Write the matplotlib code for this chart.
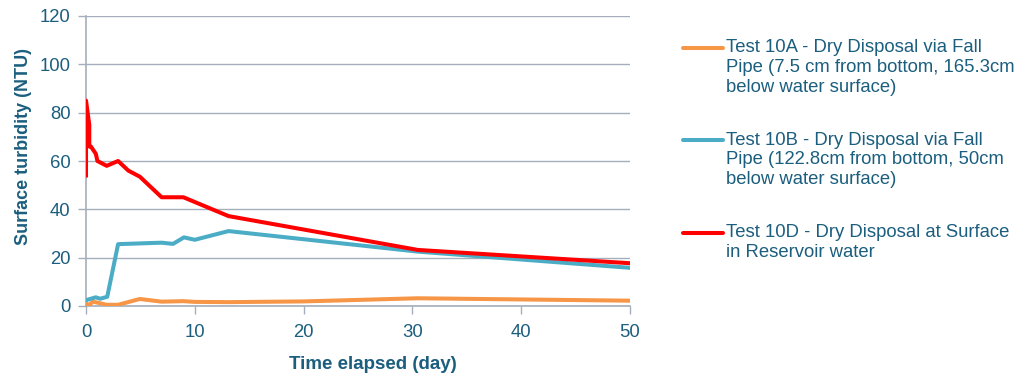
import matplotlib.pyplot as plt
from matplotlib.lines import Line2D

plt.rcParams['font.family'] = ['Liberation Sans', 'DejaVu Sans']

TEXT = '#1B5E7E'
GRID = '#A4AEBC'

# turbidity readings (NTU) against elapsed time (days)
t_10a = [0, 0.25, 0.65, 1.9, 2.95, 4.95, 6.95, 8.95, 10, 13.1, 20, 30.5, 50]
ntu_10a = [1.2, 0.3, 1.8, 0.5, 0.5, 2.9, 1.8, 2.0, 1.7, 1.6, 1.9, 3.2, 2.2]

t_10b = [0, 0.9, 1.3, 1.95, 2.95, 6.95, 8.0, 9.0, 10.0, 13.1, 30.5, 50]
ntu_10b = [2.4, 3.6, 3.0, 3.8, 25.6, 26.2, 25.7, 28.4, 27.4, 31.0, 22.5, 15.8]

t_10d = [0, 0, 0.3, 0.3, 0.45, 0.9, 1.05, 1.9, 2.95, 3.9, 4.95, 6.95, 8.95, 13.1, 30.5, 50]
ntu_10d = [54, 85, 75, 66, 66, 63, 60, 58, 60, 56, 53.5, 45, 45, 37.2, 23.2, 17.7]

labels = [
    'Test 10A - Dry Disposal via Fall\nPipe (7.5 cm from bottom, 165.3cm\nbelow water surface)',
    'Test 10B - Dry Disposal via Fall\nPipe (122.8cm from bottom, 50cm\nbelow water surface)',
    'Test 10D - Dry Disposal at Surface\nin Reservoir water',
]
colors = ['#F79646', '#4BACC6', '#FF0000']

fig = plt.figure(figsize=(10.27, 3.77), dpi=100)
ax = fig.add_axes([86 / 1027, 1 - 306 / 377, 544 / 1027, 290 / 377])

for t, v, c in zip([t_10a, t_10b, t_10d], [ntu_10a, ntu_10b, ntu_10d], colors):
    ax.plot(t, v, color=c, lw=2.9, solid_joinstyle='round', zorder=3)

ax.set_xlim(0, 50)
ax.set_ylim(0, 120)
ax.set_xticks(range(0, 51, 10))
ax.set_yticks(range(0, 121, 20))
ax.yaxis.grid(True, color=GRID, lw=1)
ax.set_axisbelow(True)
for s in ['top', 'right']:
    ax.spines[s].set_visible(False)
for s in ['left', 'bottom']:
    ax.spines[s].set_color(GRID)
    ax.spines[s].set_linewidth(1.2)
ax.tick_params(axis='both', colors=GRID, length=6, width=1, labelsize=13.3,
               labelcolor=TEXT)
ax.tick_params(axis='x', pad=7)
ax.tick_params(axis='y', pad=5)

ax.set_xlabel('Time elapsed (day)', fontsize=13.5, fontweight='bold', color=TEXT)
ax.xaxis.set_label_coords(0.528, -0.172)
ax.set_ylabel('Surface turbidity (NTU)', fontsize=13, fontweight='bold', color=TEXT)
ax.yaxis.set_label_coords(-0.1, 0.55)

# legend drawn by hand so each handle sits on the first text line
W, H = 1027, 377
for y_px, lab, c in zip([48, 140, 233], labels, colors):
    fig.add_artist(Line2D([683 / W, 723 / W], [1 - y_px / H] * 2,
                          color=c, lw=2.9, solid_capstyle='round'))
    fig.text(726 / W, 1 - (y_px - 8.5) / H, lab, fontsize=13.3, color=TEXT,
             va='top', ha='left', linespacing=1.2)

fig.savefig('out.png', dpi=100)
